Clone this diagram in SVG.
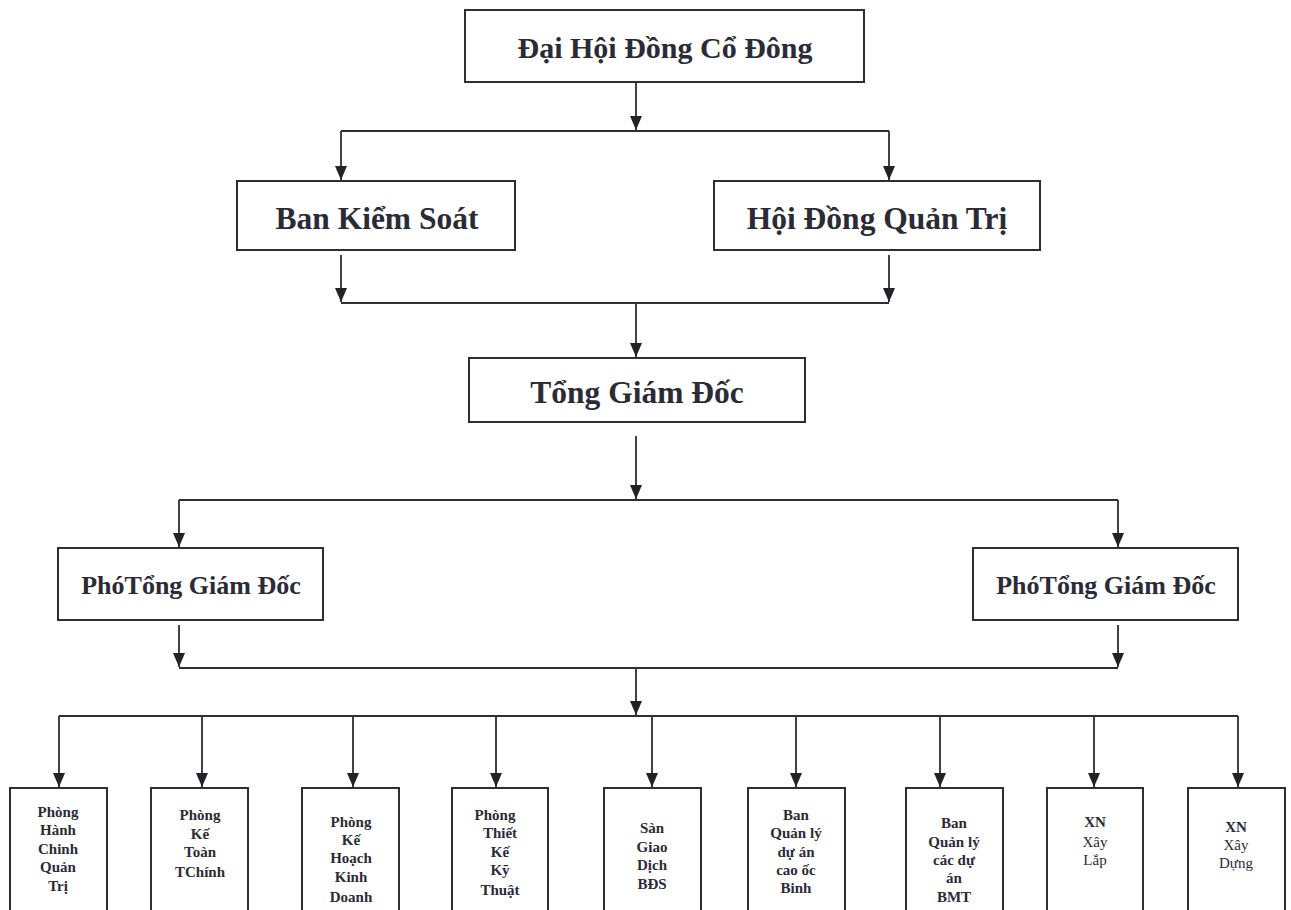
<svg xmlns="http://www.w3.org/2000/svg" width="1291" height="910" viewBox="0 0 1291 910">
<style>
.box{fill:#fff;stroke:#2e2e33;stroke-width:2}
.t{font-family:"Liberation Serif","Times New Roman",serif;font-weight:bold;fill:#2b2b36;text-anchor:middle}
.big{font-size:30px}
.mid{font-size:31.5px}
.pho{font-size:26px}
.sm{font-size:15px}
.n{font-weight:normal}
.ln{fill:none;stroke:#2e2e33;stroke-width:1.8}
.ar{fill:none;stroke:#2e2e33;stroke-width:1.8;marker-end:url(#ah)}
</style>
<defs>
<marker id="ah" viewBox="0 0 14 12" refX="14" refY="6" markerWidth="14" markerHeight="12" markerUnits="userSpaceOnUse" orient="auto">
<path d="M0,0 L14,6 L0,12 z" fill="#222228"/>
</marker>
</defs>
<rect width="1291" height="910" fill="#fff"/>
<g id="connectors">
<path class="ar" d="M636,82 V130"/>
<path class="ln" d="M341,131 H889"/>
<path class="ar" d="M341,131 V180"/>
<path class="ar" d="M889,131 V180"/>
<path class="ar" d="M341,255 V302"/>
<path class="ar" d="M889,255 V302"/>
<path class="ln" d="M341,303 H889"/>
<path class="ar" d="M636,303 V357"/>
<path class="ar" d="M636,436 V499"/>
<path class="ln" d="M179,500 H1118"/>
<path class="ar" d="M179,500 V547"/>
<path class="ar" d="M1118,500 V547"/>
<path class="ar" d="M179,625 V667"/>
<path class="ar" d="M1118,625 V667"/>
<path class="ln" d="M179,668 H1118"/>
<path class="ar" d="M636,668 V715"/>
<path class="ln" d="M59,716 H1238"/>
<path class="ar" d="M59,716 V787"/>
<path class="ar" d="M202,716 V787"/>
<path class="ar" d="M353,716 V787"/>
<path class="ar" d="M496,716 V787"/>
<path class="ar" d="M652,716 V787"/>
<path class="ar" d="M796,716 V787"/>
<path class="ar" d="M940,716 V787"/>
<path class="ar" d="M1094,716 V787"/>
<path class="ar" d="M1238,716 V787"/>
</g>
<g id="dai-hoi-dong-co-dong"><rect class="box" x="465" y="10" width="399" height="72"/><text class="t big" x="665" y="58">Đại Hội Đồng Cổ Đông</text></g>
<g id="ban-kiem-soat"><rect class="box" x="237" y="181" width="278" height="69"/><text class="t mid" x="377" y="229">Ban Kiểm Soát</text></g>
<g id="hoi-dong-quan-tri"><rect class="box" x="714" y="181" width="326" height="69"/><text class="t mid" x="877" y="229">Hội Đồng Quản Trị</text></g>
<g id="tong-giam-doc"><rect class="box" x="469" y="358" width="336" height="64"/><text class="t mid" x="637" y="403">Tổng Giám Đốc</text></g>
<g id="pho-tgd-1"><rect class="box" x="58" y="548" width="265" height="72"/><text class="t pho" x="191" y="594">PhóTổng Giám Đốc</text></g>
<g id="pho-tgd-2"><rect class="box" x="973" y="548" width="265" height="72"/><text class="t pho" x="1106" y="594">PhóTổng Giám Đốc</text></g>
<g id="phong-hcqt"><rect class="box" x="10" y="788" width="97" height="130"/>
<text class="t sm"><tspan x="58" y="817">Phòng</tspan><tspan x="58" y="835">Hành</tspan><tspan x="58" y="854">Chinh</tspan><tspan x="58" y="872">Quản</tspan><tspan x="58" y="891">Trị</tspan></text></g>
<g id="phong-ktc"><rect class="box" x="151" y="788" width="97" height="130"/>
<text class="t sm"><tspan x="200" y="820">Phòng</tspan><tspan x="200" y="839">Kế</tspan><tspan x="200" y="857">Toàn</tspan><tspan x="200" y="877">TChính</tspan></text></g>
<g id="phong-khkd"><rect class="box" x="302" y="788" width="97" height="130"/>
<text class="t sm"><tspan x="351" y="827">Phòng</tspan><tspan x="351" y="845">Kế</tspan><tspan x="351" y="863">Hoạch</tspan><tspan x="351" y="882">Kinh</tspan><tspan x="351" y="902">Doanh</tspan></text></g>
<g id="phong-tkkt"><rect class="box" x="452" y="788" width="96" height="130"/>
<text class="t sm"><tspan x="495" y="820">Phòng</tspan><tspan x="500" y="838">Thiết</tspan><tspan x="500" y="857">Kế</tspan><tspan x="500" y="875">Kỹ</tspan><tspan x="500" y="895">Thuật</tspan></text></g>
<g id="san-gd-bds"><rect class="box" x="604" y="788" width="97" height="130"/>
<text class="t sm"><tspan x="652" y="833">Sàn</tspan><tspan x="652" y="852">Giao</tspan><tspan x="652" y="870">Dịch</tspan><tspan x="652" y="889">BĐS</tspan></text></g>
<g id="ban-ql-binh"><rect class="box" x="748" y="788" width="97" height="130"/>
<text class="t sm"><tspan x="796" y="820">Ban</tspan><tspan x="796" y="838">Quản lý</tspan><tspan x="796" y="857">dự án</tspan><tspan x="796" y="875">cao ốc</tspan><tspan x="796" y="893">Binh</tspan></text></g>
<g id="ban-ql-bmt"><rect class="box" x="906" y="788" width="97" height="130"/>
<text class="t sm"><tspan x="954" y="828">Ban</tspan><tspan x="954" y="847">Quản lý</tspan><tspan x="954" y="865">các dự</tspan><tspan x="954" y="883">án</tspan><tspan x="954" y="902">BMT</tspan></text></g>
<g id="xn-xay-lap"><rect class="box" x="1047" y="788" width="96" height="130"/>
<text class="t sm"><tspan x="1095" y="827">XN</tspan><tspan class="n" x="1095" y="847">Xây</tspan><tspan class="n" x="1095" y="865">Lắp</tspan></text></g>
<g id="xn-xay-dung"><rect class="box" x="1188" y="788" width="97" height="130"/>
<text class="t sm"><tspan x="1236" y="832">XN</tspan><tspan class="n" x="1236" y="850">Xây</tspan><tspan class="n" x="1236" y="868">Dựng</tspan></text></g>
</svg>
